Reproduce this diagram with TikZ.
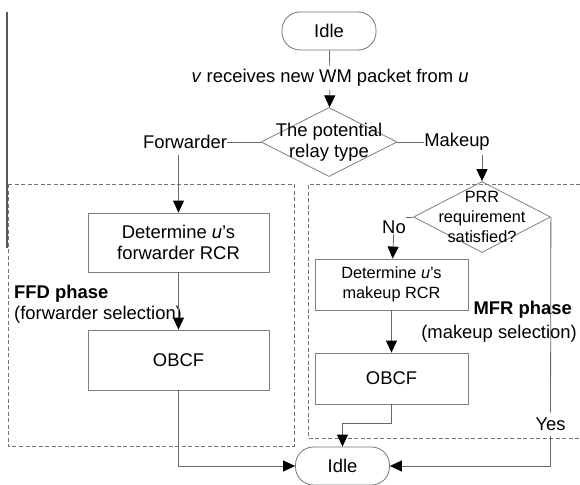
\documentclass[tikz,border=0pt]{standalone}
\usepackage{fontspec}
\setmainfont{Liberation Sans}
\usetikzlibrary{arrows.meta,shapes.geometric}

\begin{document}
\begin{tikzpicture}[x=1pt, y=-1pt,
    font=\fontsize{18.4}{21}\selectfont,
    every node/.style={inner sep=0pt},
    idlebox/.style={draw=black!55, line width=0.8pt, rounded corners=18pt,
      minimum width=94pt, minimum height=38pt},
    stepbox/.style={draw=black!50, line width=0.8pt, align=center},
    decision/.style={draw=black!50, line width=0.8pt, shape=diamond},
    link/.style={draw=black!60, line width=0.8pt},
    arrow/.style={link, -{Triangle[length=12pt, width=11pt, color=black]}},
    phasebox/.style={draw=black!55, line width=0.8pt, dash pattern=on 4pt off 2.5pt}]
  \useasboundingbox (0,0) rectangle (580,484);

  % page edge on the left
  \draw[black!65, line width=1.6pt] (7,12) -- (7,248);
  % the two phases
  \draw[phasebox] (8,184) rectangle (294,446);
  \draw[phasebox] (580,184) -- (308,184) -- (308,438) -- (580,438);

  \node[idlebox] (idle) at (329,31) {Idle};
  \node[inner ysep=3pt] (recv) at (330,78) {\textit{v} receives new WM packet from \textit{u}};
  \node[decision, minimum width=136pt, minimum height=69pt] (type) at (329,142) {};
  \node[align=center] (typetext) at (type) {The potential\\relay type};
  \node (fwd) at (185,142) {Forwarder};
  \node (mkp) at (457,142) {Makeup};

  % forwarder side
  \node[stepbox, minimum width=181pt, minimum height=59pt] (rcrfwd) at (178.5,242.5)
    {Determine \textit{u}'s\\forwarder RCR};
  \node[stepbox, minimum width=181pt, minimum height=60pt] (obcffwd) at (178.5,360) {OBCF};
  \node[anchor=west, align=left] (ffd) at (14,304) {\textbf{FFD phase}\\(forwarder selection)};

  % makeup side
  \node[decision, minimum width=137pt, minimum height=71pt] (prr) at (482,217) {};
  \node[align=center, font=\fontsize{16.3}{20}\selectfont] (prrtext) at (prr)
    {PRR\\requirement\\satisfied?};
  \node (no) at (394,227) {No};
  \node[stepbox, minimum width=153pt, minimum height=51pt, font=\fontsize{16.3}{20}\selectfont]
    (rcrmkp) at (391.5,284.5) {Determine \textit{u}'s\\makeup RCR};
  \node[stepbox, minimum width=153pt, minimum height=51pt] (obcfmkp) at (391.5,378.5) {OBCF};
  \node[anchor=east] (mfr) at (572,310) {\textbf{MFR phase}};
  \node[anchor=east] (mfrsel) at (577,334) {(makeup selection)};
  \node[inner ysep=5pt] (yes) at (550.5,424) {Yes};

  \node[idlebox] (idleend) at (342.5,466) {Idle};

  % connectors
  \draw[link] (idle) -- (recv);
  \draw[arrow] (recv) -- (type);
  \draw[link] (type) -- (fwd);
  \draw[link] (type) -- (mkp);
  \draw[arrow] ([yshift=-6pt]fwd.south -| rcrfwd.north) -- (rcrfwd);
  \draw[arrow] (rcrfwd) -- (obcffwd);
  \draw[arrow] (obcffwd) |- (idleend);
  \draw[arrow] ([yshift=-4pt]mkp.south -| prr.north) -- (prr);
  \draw[link] (prr.west) -- (prr.west -| no.east);
  \draw[arrow] (no) -- (rcrmkp);
  \draw[arrow] (rcrmkp) -- (obcfmkp);
  \draw[arrow] (obcfmkp.south) -- ++(0,19) -| (idleend);
  \draw[link] (prr.east) -- (yes);
  \draw[arrow] (yes) |- (idleend);
\end{tikzpicture}
\end{document}
